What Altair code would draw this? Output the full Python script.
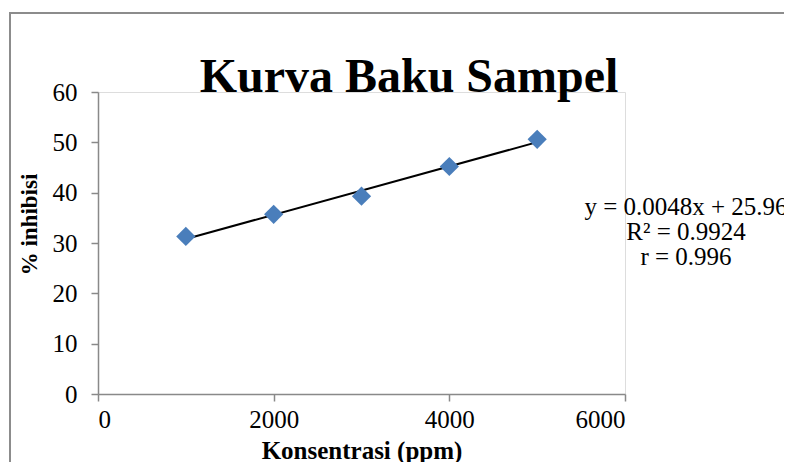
import altair as alt
import pandas as pd

# Data
konsentrasi = [1000, 2000, 3000, 4000, 5000]
inhibisi = [31.3, 35.7, 39.3, 45.2, 50.6]
x_ticks = [0, 2000, 4000, 6000]
y_ticks = [0, 10, 20, 30, 40, 50, 60]
eq_lines = ["y = 0.0048x + 25.96", "R² = 0.9924", "r = 0.996"]
chart_title = "Kurva Baku Sampel"

df = pd.DataFrame({"x": konsentrasi, "y": inhibisi})

W, H = 527, 302
FONT = "Liberation Serif"
GRAY = "#898989"

xs = alt.Scale(domain=[0, 6000], nice=False)
ys = alt.Scale(domain=[0, 60], nice=False)

xax = alt.Axis(values=x_ticks, format="d", grid=False, tickSize=7, labelPadding=6,
               domainColor=GRAY, tickColor=GRAY, domainWidth=1.5, tickWidth=1.5,
               labelFont=FONT, labelFontSize=25, labelColor="black",
               titleFont=FONT, titleFontSize=25, titleFontWeight="bold", titleColor="black",
               titleY=64, titleBaseline="alphabetic")
yax = alt.Axis(values=y_ticks, format="d", grid=False, tickSize=7, labelPadding=14,
               domainColor=GRAY, tickColor=GRAY, domainWidth=1.5, tickWidth=1.5,
               labelFont=FONT, labelFontSize=25, labelColor="black",
               titleFont=FONT, titleFontSize=23, titleFontWeight="bold", titleColor="black",
               titleX=-69, titleY=132, titleBaseline="middle", titleAlign="center", titleAngle=270)

one = pd.DataFrame({"a": [0]})

border = alt.Chart(one).mark_rect(
    fill=None, stroke="#8c8c8c", strokeWidth=2
).encode(x=alt.value(-88), x2=alt.value(W + 200), y=alt.value(-79), y2=alt.value(H + 200))

points = alt.Chart(df).mark_point(
    shape="diamond", filled=True, size=370, color="#4a7ebb", opacity=1
).encode(
    x=alt.X("x:Q", scale=xs, axis=xax, title="Konsentrasi (ppm)"),
    y=alt.Y("y:Q", scale=ys, axis=yax, title="% inhibisi"),
)

trend = alt.Chart(df).transform_regression(
    "x", "y", method="linear", extent=[1000, 5000]
).mark_line(color="black", strokeWidth=2).encode(
    x=alt.X("x:Q", scale=xs),
    y=alt.Y("y:Q", scale=ys),
)

eq_layers = []
for i, line in enumerate(eq_lines):
    eq_layers.append(
        alt.Chart(one).mark_text(
            text=line, font=FONT, fontSize=25, color="black", align="center", baseline="middle"
        ).encode(x=alt.value(588), y=alt.value(115 + 25 * i))
    )

title = alt.Chart(one).mark_text(
    text=chart_title, font=FONT, fontSize=48, fontWeight="bold", color="black",
    align="center", baseline="alphabetic"
).encode(x=alt.value(311), y=alt.value(0))

chart = alt.layer(border, trend, points, title, *eq_layers).properties(
    width=W, height=H,
    autosize=alt.AutoSizeParams(type="none"),
    padding={"left": 90, "top": 84, "right": 159, "bottom": 68},
).configure_view(stroke=None).configure(background="white")

chart.save("out.html", embed_options={"renderer": "svg", "actions": False})
